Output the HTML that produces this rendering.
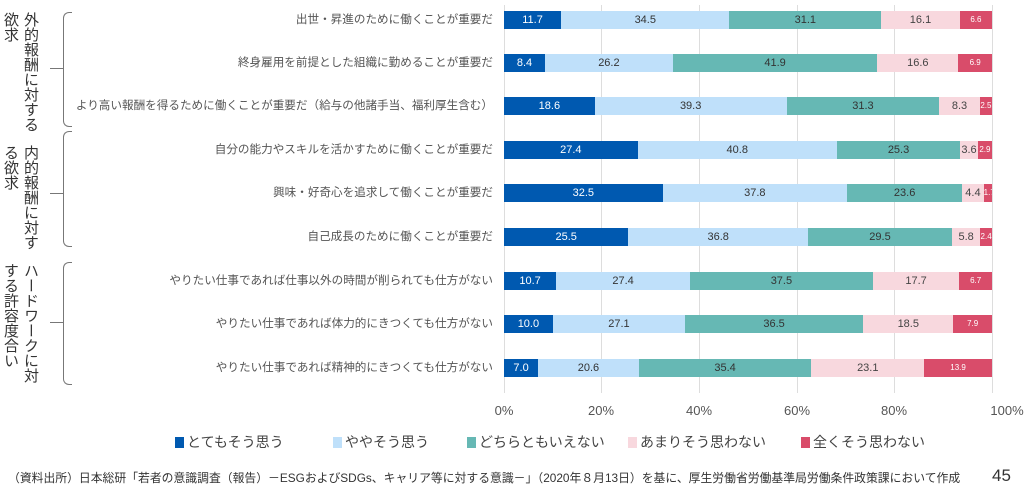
<!DOCTYPE html>
<html><head><meta charset="utf-8"><style>
body{margin:0;width:1024px;height:492px;background:#fff;position:relative;overflow:hidden;font-family:"Liberation Sans","Noto Sans CJK JP",sans-serif;color:#444}
.g{position:absolute;top:5px;width:1px;height:388px;background:#ddd}
.lab{position:absolute;right:531px;font-size:11.6px;color:#555;white-space:nowrap;line-height:14px}
.bar{position:absolute;left:504px;width:488px;height:18px;display:flex}
.bar div{height:100%;font-size:11px;line-height:18px;text-align:center;overflow:hidden;white-space:nowrap}
.a{background:#0059b0;color:#fff}.b{background:#bfe0fa;color:#333}.c{background:#66b8b4;color:#333}.d{background:#f8d8de;color:#444}.e{background:#d94c6a;color:#fff;font-size:8px!important}
.t{position:absolute;top:403px;font-size:13px;color:#555;width:60px;text-align:center}
.v{position:absolute;writing-mode:vertical-rl;font-size:15px;line-height:20px;color:#333}
.br{position:absolute;left:63px;width:8px;border:1px solid #777;border-right:none;border-radius:6px 0 0 6px}
.bt{position:absolute;left:50px;width:13px;height:1px;background:#777}
.lg{position:absolute;top:432px;font-size:14px;color:#444;white-space:nowrap}
.lg i{display:inline-block;width:9px;height:11px;margin-right:3px;vertical-align:-1px}
</style></head><body>
<div class="g" style="left:504px"></div><div class="g" style="left:601px"></div><div class="g" style="left:699px"></div><div class="g" style="left:797px"></div><div class="g" style="left:894px"></div><div class="g" style="left:992px"></div>

<div class="v" style="left:0px;top:12px;height:128px">外的報酬に対する欲求</div>
<div class="v" style="left:0px;top:145px;height:112px">内的報酬に対する欲求</div>
<div class="v" style="left:0px;top:263px;height:128px">ハードワークに対する許容度合い</div>
<div class="br" style="top:12px;height:113px"></div><div class="bt" style="top:68px"></div>
<div class="br" style="top:131px;height:114px"></div><div class="bt" style="top:193px"></div>
<div class="br" style="top:262px;height:121px"></div><div class="bt" style="top:322px"></div>

<div class="lab" style="top:13px">出世・昇進のために働くことが重要だ</div>
<div class="lab" style="top:56px">終身雇用を前提とした組織に勤めることが重要だ</div>
<div class="lab" style="top:99px">より高い報酬を得るために働くことが重要だ（給与の他諸手当、福利厚生含む）</div>
<div class="lab" style="top:143px">自分の能力やスキルを活かすために働くことが重要だ</div>
<div class="lab" style="top:186px">興味・好奇心を追求して働くことが重要だ</div>
<div class="lab" style="top:230px">自己成長のために働くことが重要だ</div>
<div class="lab" style="top:274px">やりたい仕事であれば仕事以外の時間が削られても仕方がない</div>
<div class="lab" style="top:317px">やりたい仕事であれば体力的にきつくても仕方がない</div>
<div class="lab" style="top:361px">やりたい仕事であれば精神的にきつくても仕方がない</div>

<div class="bar" style="top:11px"><div class="a" style="width:11.7%">11.7</div><div class="b" style="width:34.5%">34.5</div><div class="c" style="width:31.1%">31.1</div><div class="d" style="width:16.1%">16.1</div><div class="e" style="width:6.6%">6.6</div></div>
<div class="bar" style="top:54px"><div class="a" style="width:8.4%">8.4</div><div class="b" style="width:26.2%">26.2</div><div class="c" style="width:41.9%">41.9</div><div class="d" style="width:16.6%">16.6</div><div class="e" style="width:6.9%">6.9</div></div>
<div class="bar" style="top:97px"><div class="a" style="width:18.6%">18.6</div><div class="b" style="width:39.3%">39.3</div><div class="c" style="width:31.3%">31.3</div><div class="d" style="width:8.3%">8.3</div><div class="e" style="width:2.5%">2.5</div></div>
<div class="bar" style="top:141px"><div class="a" style="width:27.4%">27.4</div><div class="b" style="width:40.8%">40.8</div><div class="c" style="width:25.3%">25.3</div><div class="d" style="width:3.6%">3.6</div><div class="e" style="width:2.9%">2.9</div></div>
<div class="bar" style="top:184px"><div class="a" style="width:32.5%">32.5</div><div class="b" style="width:37.8%">37.8</div><div class="c" style="width:23.6%">23.6</div><div class="d" style="width:4.4%">4.4</div><div class="e" style="width:1.7%">1.7</div></div>
<div class="bar" style="top:228px"><div class="a" style="width:25.5%">25.5</div><div class="b" style="width:36.8%">36.8</div><div class="c" style="width:29.5%">29.5</div><div class="d" style="width:5.8%">5.8</div><div class="e" style="width:2.4%">2.4</div></div>
<div class="bar" style="top:272px"><div class="a" style="width:10.7%">10.7</div><div class="b" style="width:27.4%">27.4</div><div class="c" style="width:37.5%">37.5</div><div class="d" style="width:17.7%">17.7</div><div class="e" style="width:6.7%">6.7</div></div>
<div class="bar" style="top:315px"><div class="a" style="width:10.0%">10.0</div><div class="b" style="width:27.1%">27.1</div><div class="c" style="width:36.5%">36.5</div><div class="d" style="width:18.5%">18.5</div><div class="e" style="width:7.9%">7.9</div></div>
<div class="bar" style="top:359px"><div class="a" style="width:7.0%">7.0</div><div class="b" style="width:20.6%">20.6</div><div class="c" style="width:35.4%">35.4</div><div class="d" style="width:23.1%">23.1</div><div class="e" style="width:13.9%">13.9</div></div>

<div class="t" style="left:474px">0%</div><div class="t" style="left:571px">20%</div><div class="t" style="left:669px">40%</div><div class="t" style="left:767px">60%</div><div class="t" style="left:864px">80%</div><div class="t" style="left:977px">100%</div>

<div class="lg" style="left:175px"><i style="background:#0059b0"></i>とてもそう思う</div>
<div class="lg" style="left:333px"><i style="background:#bfe0fa"></i>ややそう思う</div>
<div class="lg" style="left:467px"><i style="background:#66b8b4"></i>どちらともいえない</div>
<div class="lg" style="left:628px"><i style="background:#f8d8de"></i>あまりそう思わない</div>
<div class="lg" style="left:801px"><i style="background:#d94c6a"></i>全くそう思わない</div>

<div style="position:absolute;left:8px;top:469px;font-size:12px;color:#333;white-space:nowrap;transform:scaleX(0.985);transform-origin:left">（資料出所）日本総研「若者の意識調査（報告）－ESGおよびSDGs、キャリア等に対する意識－」（2020年８月13日）を基に、厚生労働省労働基準局労働条件政策課において作成</div>
<div style="position:absolute;left:992px;top:466px;font-size:17px;color:#333">45</div>
</body></html>
